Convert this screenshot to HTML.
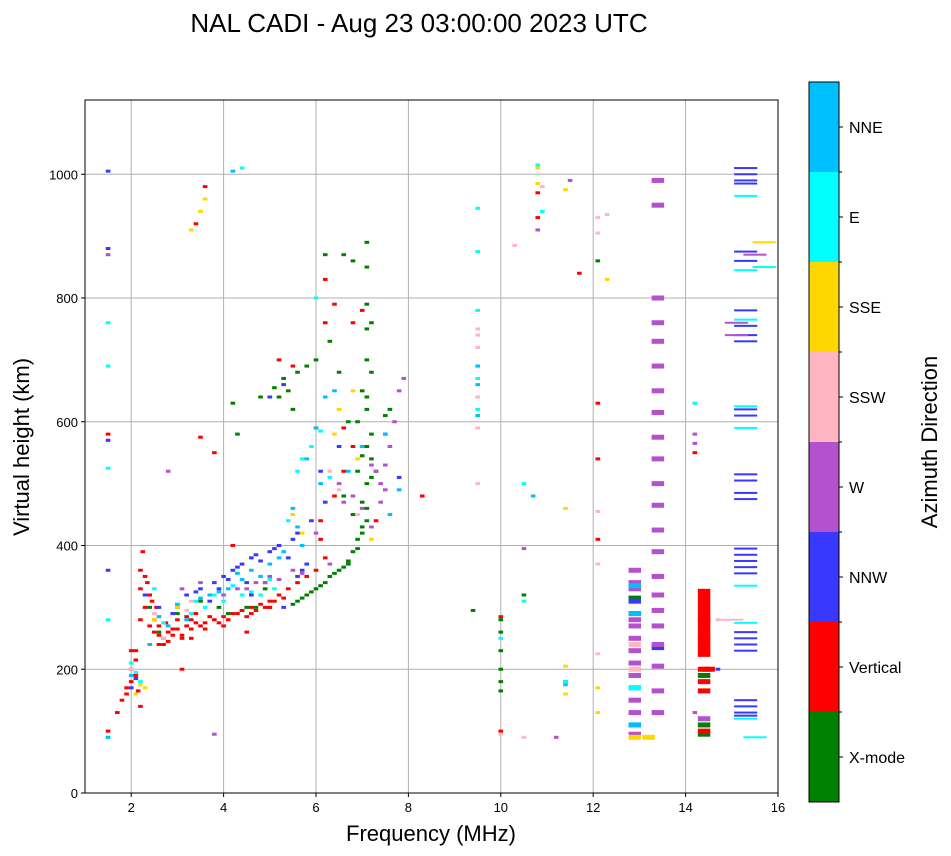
<!DOCTYPE html>
<html><head><meta charset="utf-8"><style>
body{margin:0;background:#fff;}
svg{display:block;font-family:"Liberation Sans","DejaVu Sans",sans-serif;}
</style></head><body>
<svg id="chart" width="951" height="856" viewBox="0 0 951 856" xmlns="http://www.w3.org/2000/svg">
<text x="419" y="32" font-size="26" text-anchor="middle">NAL CADI - Aug 23 03:00:00 2023 UTC</text>
<g id="grid"></g>
<g id="marks"></g>
<rect x="85" y="100" width="693" height="693" fill="none" stroke="#000" stroke-width="1"/>
<g id="axes"></g>
<text x="431" y="841" font-size="22" text-anchor="middle">Frequency (MHz)</text>
<text transform="translate(29,447) rotate(-90)" font-size="22" text-anchor="middle">Virtual height (km)</text>
<g id="colorbar"></g>
<text transform="translate(937,442) rotate(-90)" font-size="22" text-anchor="middle">Azimuth Direction</text>
</svg>
<script>
const categories=["X-mode","Vertical","NNW","W","SSW","SSE","E","NNE"];
const colors=["#008000","#ff0000","#3838ff","#b452cd","#ffb6c1","#ffd700","#00ffff","#00bfff"];
const xTicks=[2,4,6,8,10,12,14,16];
const yTicks=[0,200,400,600,800,1000];
const xmodeF=[5.5,5.7,5.9,6.0,6.2,6.4,6.6,6.7,6.8,6.9,7.0,7.1,7.1,7.2,7.2,7.1,7.0,7.1,7.1,7.1,7.1,7.1,6.8,6.6,7.2,6.3,6.5,6.9,7.0,7.3,6.6,6.8,5.2,5.4,5.6,5.8,6.0,4.2,4.3,4.8,5.0,4.9,2.4,2.6,3.0,3.5,3.9,4.5,9.4,10.0,10.0,10.0,10.0,10.0,10.0,10.5,12.1,12.9,14.4,14.4,14.4,6.2,5.5,7.5,6.7,7.6,5.6,5.8,6.1,6.3,6.5,6.7,6.9,7.0,7.1,7.0,7.2,7.1,5.0,5.1,5.3,4.7,4.4,4.1,6.9,7.0,7.1,7.2];
const xmodeH=[305,315,325,330,340,355,365,375,390,410,430,460,500,540,580,620,650,700,750,790,850,890,860,870,760,730,680,600,560,520,480,450,640,650,680,690,700,630,580,640,300,330,300,260,290,310,300,300,295,280,260,230,200,180,165,320,860,315,190,110,95,870,620,610,600,620,310,320,335,350,360,370,395,420,440,470,510,560,640,655,670,300,295,290,520,545,640,680];
const vertF=[1.5,1.7,1.8,1.9,2.0,2.1,2.2,2.1,2.2,2.2,2.3,2.25,2.4,2.5,2.6,2.7,2.8,2.9,3.0,3.2,3.4,3.6,3.8,4.0,4.2,4.4,4.6,4.8,5.0,5.2,5.4,5.6,5.8,6.0,6.2,6.1,6.1,6.4,6.6,6.8,3.1,3.4,3.6,3.8,3.5,4.2,4.5,5.2,5.5,6.2,6.2,6.8,7.0,6.4,6.0,6.6,8.3,12.1,12.1,12.1,11.7,10.8,10.8,10.0,10.0,14.4,14.4,14.4,14.4,14.4,14.4,14.4,14.2,14.5,1.5,7.3,2.2,2.0,2.6,2.9,3.3,2.3,2.35,2.4,2.45,2.5,2.55,2.6,2.7,2.75,2.8,2.9,3.0,3.1,3.2,3.3,3.4,3.5,3.7,3.9,4.1,4.3,4.5,4.7,4.9,5.1,5.3,1.9,2.0,2.1,2.15,3.1,3.3,3.6,4.0,4.6,5.0];
const vertH=[100,130,150,170,180,190,140,230,280,330,350,390,320,280,270,250,260,255,265,270,275,275,280,285,290,295,300,305,310,320,330,340,350,360,380,410,440,480,520,560,200,920,980,550,575,400,260,700,690,830,760,760,780,790,590,590,480,630,540,410,840,970,930,100,285,280,250,225,200,180,165,100,550,200,580,440,360,230,240,265,280,300,340,270,310,260,300,255,240,275,245,290,280,255,285,265,290,270,285,275,280,290,285,295,300,310,315,160,200,215,165,250,250,265,270,290,300];
const nnwF=[1.5,1.5,1.5,1.5,2.0,3.0,3.2,3.5,3.8,4.0,4.2,4.4,4.6,4.8,5.0,5.2,5.4,5.6,5.6,5.9,6.1,6.5,7.5,7.8,5.0,5.3,4.6,4.9,5.3,15.3,15.3,15.3,15.3,15.3,15.3,15.3,15.3,15.3,15.3,15.3,15.3,15.3,15.3,15.3,15.3,15.3,15.3,15.3,15.3,15.3,15.3,15.3,15.3,15.3,15.3,15.3,15.3,15.3,13.4,12.9,11.4,14.7,2.3,2.6,2.9,3.4,3.7,4.1,4.3,4.7,5.1,5.5,5.7,5.8,6.2,4.5,3.9,2.1];
const nnwH=[1005,880,360,570,170,300,320,330,340,350,360,370,380,375,390,400,380,350,420,440,520,560,580,510,640,660,320,340,300,1010,1000,990,985,875,860,780,755,740,730,620,610,515,505,485,475,395,385,375,365,355,260,250,240,230,150,140,130,125,235,310,180,200,320,300,290,325,310,345,365,385,395,410,360,370,470,340,330,185];
const wF=[1.5,2.8,3.1,3.5,4.0,4.5,4.7,5.0,5.5,6.0,6.5,6.8,7.0,7.2,7.4,7.4,7.5,7.6,7.7,7.8,7.9,7.2,11.2,11.5,10.5,10.8,14.2,14.2,14.2,14.4,15.1,15.1,15.5,13.4,13.4,13.4,13.4,13.4,13.4,13.4,13.4,13.4,13.4,13.4,13.4,13.4,13.4,13.4,13.4,13.4,13.4,13.4,13.4,13.4,13.4,12.9,12.9,12.9,12.9,12.9,12.9,12.9,12.9,12.9,12.9,12.9,12.9,12.9,12.9,12.9,3.8,4.3,4.9,5.2,5.7,6.3,6.6,7.3,7.5];
const wH=[870,520,330,340,320,330,340,350,360,420,500,480,460,430,470,500,530,560,600,650,670,530,90,990,395,910,580,565,130,120,760,740,870,990,950,800,760,730,690,650,615,575,540,500,465,425,390,350,320,295,270,240,205,165,130,95,360,340,330,290,280,270,250,230,210,190,170,150,130,110,95,330,340,345,355,370,470,520,490,540];
const sswF=[9.5,9.5,9.5,9.5,9.5,9.5,10.9,10.3,12.1,12.1,12.1,12.1,12.1,12.3,14.7,15.0,2.5,2.7,3.3,6.3,12.9,12.9,10.5,2.0,10.0,2.8,3.2,6.5,6.9];
const sswH=[750,740,720,640,590,500,980,885,930,905,455,370,225,935,280,280,290,250,310,520,200,240,90,200,95,270,295,490,450];
const sseF=[3.3,3.5,3.6,2.1,2.3,2.5,3.0,5.5,6.5,6.8,7.2,10.8,10.8,11.4,11.4,11.4,11.4,12.1,12.1,12.3,15.7,15.7,12.9,13.2,6.9,2.2,5.7,6.4];
const sseH=[910,940,960,160,170,280,300,450,620,650,410,1010,985,975,460,205,160,170,130,830,890,850,90,90,540,175,420,580];
const eF=[1.5,1.5,1.5,1.5,1.5,2.0,2.2,2.5,3.0,3.3,3.6,4.0,4.4,4.8,5.1,5.4,5.6,5.9,6.0,6.3,9.5,9.5,9.5,9.5,9.5,9.5,10.5,10.8,10.9,14.2,15.3,15.3,15.3,15.3,15.3,15.3,15.3,15.3,15.5,15.7,12.9,11.4,10.0,4.4,10.5,2.1,2.7,3.4,3.8,4.2,4.6,5.0,5.7,6.1];
const eH=[760,690,525,280,90,210,180,330,305,290,300,310,320,320,330,440,520,560,800,510,945,875,780,690,670,620,500,1015,940,630,965,845,765,625,590,335,275,120,90,850,170,180,250,1010,310,195,275,310,320,335,325,345,540,585];
const nneF=[1.5,2.0,2.4,2.8,3.2,3.7,4.1,4.3,4.6,5.0,5.3,5.5,5.8,6.0,6.2,6.4,7.0,7.5,7.8,7.6,9.5,9.5,9.5,10.7,4.2,12.9,12.9,12.9,11.4,5.7,2.6,3.0,3.5,3.9,4.4,4.8,5.2,5.6,6.1,6.7];
const nneH=[90,190,240,270,280,320,330,355,360,370,390,460,540,590,640,650,560,580,490,450,690,660,610,480,1005,335,290,110,175,400,285,305,315,325,345,350,380,430,500,520];
const seriesF=[xmodeF,vertF,nnwF,wF,sswF,sseF,eF,nneF];
const seriesH=[xmodeH,vertH,nnwH,wH,sswH,sseH,eH,nneH];
const barF=[14.4];
const barLo=[220];
const barHi=[330];
const barCat=[1];

const NS="http://www.w3.org/2000/svg";
const X0=85,X1=778,Y0=793,Y1=100,FMIN=1,FMAX=16,HMIN=0,HMAX=1120;
function xs(f){return X0+(f-FMIN)/(FMAX-FMIN)*(X1-X0);}
function ys(h){return Y0-(h-HMIN)/(HMAX-HMIN)*(Y0-Y1);}
function mk(tag,attrs,parent){const e=document.createElementNS(NS,tag);for(const k in attrs)e.setAttribute(k,attrs[k]);parent.appendChild(e);return e;}
const grid=document.getElementById('grid'),axes=document.getElementById('axes'),marks=document.getElementById('marks'),cb=document.getElementById('colorbar');
xTicks.forEach(t=>{
  const x=xs(t);
  if(t<FMAX){const l=mk('line',{x1:x,x2:x,y1:Y1,y2:Y0,stroke:'#b0b0b0','stroke-width':1},grid);
  
  }
  mk('line',{x1:x,x2:x,y1:Y0,y2:Y0+4,stroke:'#000'},axes);
  const tx=mk('text',{x:x,y:Y0+19,'font-size':13,'text-anchor':'middle'},axes);tx.textContent=t;
  
  
});
yTicks.forEach(t=>{
  const y=ys(t);
  if(t>0){const l=mk('line',{x1:X0,x2:X1,y1:y,y2:y,stroke:'#b0b0b0','stroke-width':1},grid);
  
  }
  mk('line',{x1:X0-4,x2:X0,y1:y,y2:y,stroke:'#000'},axes);
  const tx=mk('text',{x:X0-7,y:y+5,'font-size':13,'text-anchor':'end'},axes);tx.textContent=t;
  
  
});
function markW(f){if(f>=15)return 0.5;if((f>12.7&&f<13.6)||(f>14.3&&f<14.6))return 0.27;return 0.1;}
function markH(f){if(f>=15)return 2;if((f>12.7&&f<13.6))return 5;if(f>14.3&&f<14.6)return 5;return 3;}
seriesF.forEach((fs,ci)=>{
  fs.forEach((f,i)=>{
    const h=seriesH[ci][i];const w=markW(f)*(X1-X0)/(FMAX-FMIN);const hh=markH(f);
    const r=mk('rect',{x:xs(f)-w/2,y:ys(h)-hh/2,width:w,height:hh,fill:colors[ci]},marks);
    
    
  });
});
barF.forEach((f,i)=>{
  const w=markW(f)*(X1-X0)/(FMAX-FMIN);
  const r=mk('rect',{x:xs(f)-w/2,y:ys(barHi[i]),width:w,height:ys(barLo[i])-ys(barHi[i]),fill:colors[barCat[i]]},marks);
  
  
});
const CX=809,CW=30,CT=82,CB=802,seg=(CB-CT)/categories.length;
categories.forEach((c,i)=>{
  const y=CB-(i+1)*seg;
  const r=mk('rect',{x:CX,y:y,width:CW,height:seg,fill:colors[i]},cb);
  
  
  mk('line',{x1:CX+CW,x2:CX+CW+4,y1:y+seg/2,y2:y+seg/2,stroke:'#000'},cb);
  if(i>0){mk('line',{x1:CX+CW,x2:CX+CW+3,y1:CB-i*seg,y2:CB-i*seg,stroke:'#000'},cb);}
  const t=mk('text',{x:CX+CW+10,y:y+seg/2+6,'font-size':16},cb);t.textContent=c;
  
  
});
mk('rect',{x:CX,y:CT,width:CW,height:CB-CT,fill:'none',stroke:'#000'},cb);
</script>
</body></html>
